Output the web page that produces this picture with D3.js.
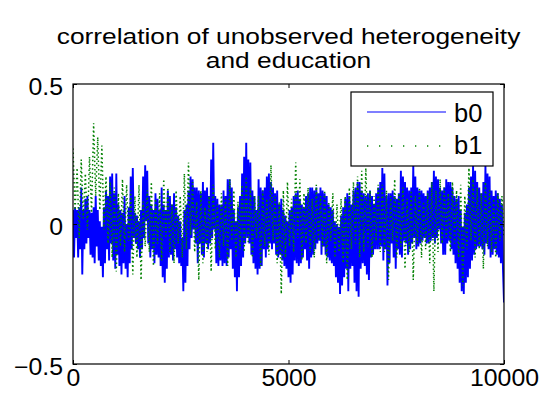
<!DOCTYPE html>
<html>
<head>
<meta charset="utf-8">
<script src="https://cdn.jsdelivr.net/npm/d3@7"></script>
<style>
  html, body { margin: 0; padding: 0; background: #fff; }
  svg { display: block; }
  text { font-family: "Liberation Sans", Arial, Helvetica, sans-serif; fill: #000; }
</style>
</head>
<body>
<svg id="chart" width="546" height="405"></svg>
<script>
// Chain draws of the two coefficients (sampled extremes along the 10000 iterations)
const b0 = [
  0.05,-0.12, 0.06,-0.05, 0.05,-0.12, 0.06,-0.09, 0.13,-0.18, 0.05,-0.09, 0.09,-0.07, 0.10,-0.05, 0.05,-0.11, 0.04,-0.12,
  0.06,-0.14, 0.10,-0.08, 0.05,-0.13, 0.01,-0.15, -0.01,-0.19, 0.06,-0.14, 0.12,-0.09, 0.10,-0.13, 0.17,-0.07, 0.18,-0.13,
  0.11,-0.16, 0.18,-0.11, 0.07,-0.15, 0.05,-0.18, 0.04,-0.14, 0.10,-0.16, 0.00,-0.19, 0.06,-0.14, 0.17,-0.09, 0.20,-0.05,
  0.04,-0.07, 0.03,-0.09, 0.01,-0.12, 0.05,-0.09, 0.17,-0.05, 0.21,0.01, 0.19,-0.07, 0.10,-0.12, 0.07,-0.09, 0.05,-0.14,
  0.11,-0.11, 0.09,-0.12, 0.05,-0.15, 0.13,-0.19, 0.07,-0.21, 0.05,-0.16, 0.12,-0.12, 0.10,-0.11, 0.07,-0.13, 0.11,-0.09,
  0.06,-0.12, 0.03,-0.14, 0.01,-0.15, -0.05,-0.24, 0.05,-0.21, 0.07,-0.15, 0.12,-0.09, 0.17,-0.05, 0.16,-0.02, 0.13,-0.07,
  0.13,-0.14, 0.12,-0.07, 0.11,-0.11, 0.15,-0.12, 0.12,-0.07, 0.13,-0.09, 0.10,-0.07, 0.23,-0.05, 0.29,-0.02, 0.10,-0.14,
  0.09,-0.15, 0.07,-0.13, 0.07,-0.15, 0.12,-0.14, 0.10,-0.15, 0.16,-0.12, 0.16,-0.09, 0.13,-0.16, 0.05,-0.19, 0.01,-0.24,
  0.06,-0.19, 0.10,-0.15, 0.18,-0.12, 0.24,-0.07, 0.29,-0.05, 0.23,-0.07, 0.22,-0.11, 0.12,-0.14, 0.10,-0.16, 0.05,-0.18,
  0.16,-0.16, 0.13,-0.15, 0.12,-0.09, 0.13,-0.12, 0.17,-0.09, 0.18,-0.07, 0.15,-0.09, 0.13,-0.07, 0.11,-0.11, 0.12,-0.12,
  0.07,-0.11, 0.09,-0.13, 0.05,-0.15, 0.03,-0.16, 0.01,-0.19, 0.05,-0.21, 0.06,-0.18, 0.10,-0.13, 0.11,-0.14, 0.12,-0.15,
  0.09,-0.14, 0.07,-0.12, 0.06,-0.09, 0.10,-0.13, 0.11,-0.16, 0.13,-0.12, 0.13,-0.11, 0.12,-0.09, 0.13,-0.07, 0.11,-0.06,
  0.13,-0.11, 0.12,-0.08, 0.11,-0.11, 0.10,-0.12, 0.07,-0.13, 0.06,-0.14, 0.05,-0.15, 0.01,-0.19, 0.00,-0.21, -0.01,-0.25,
  0.03,-0.22, 0.06,-0.19, 0.09,-0.16, 0.11,-0.24, 0.10,-0.16, 0.07,-0.15, 0.12,-0.21, 0.13,-0.24, 0.15,-0.26, 0.15,-0.16,
  0.12,-0.14, 0.11,-0.15, 0.10,-0.18, 0.11,-0.20, 0.12,-0.12, 0.10,-0.11, 0.07,-0.09, 0.11,-0.09, 0.13,-0.09, 0.15,-0.08,
  0.20,-0.13, 0.18,-0.09, 0.10,-0.22, 0.11,-0.14, 0.11,-0.07, 0.12,-0.12, 0.10,-0.16, 0.09,-0.09, 0.11,-0.11, 0.19,-0.12,
  0.17,-0.06, 0.15,-0.07, 0.13,-0.11, 0.12,-0.09, 0.13,-0.07, 0.21,-0.05, 0.17,-0.09, 0.13,-0.08, 0.12,-0.07, 0.12,-0.06,
  0.11,-0.05, 0.10,-0.07, 0.12,-0.07, 0.13,-0.06, 0.15,-0.05, 0.19,-0.07, 0.17,-0.05, 0.16,-0.02, 0.13,-0.07, 0.12,-0.11,
  0.13,-0.11, 0.16,-0.07, 0.15,-0.06, 0.15,-0.09, 0.13,-0.11, 0.10,-0.14, 0.09,-0.16, 0.10,-0.21, 0.05,-0.24, -0.01,-0.25,
  0.04,-0.21, 0.07,-0.19, 0.13,-0.16, 0.17,-0.13, 0.21,-0.11, 0.19,-0.09, 0.15,-0.08, 0.13,-0.08, 0.11,-0.09, 0.15,-0.11,
  0.21,-0.07, 0.18,-0.09, 0.17,-0.12, 0.12,-0.11, 0.10,-0.09, 0.12,-0.11, 0.11,-0.12, 0.09,-0.14, 0.07,-0.16, -0.28
];

const b1 = [
  0.27,0.05, 0.20,-0.05, 0.23,0.02, 0.18,-0.02, 0.24,0.04, 0.36,0.10, 0.31,0.05, 0.28,-0.02, 0.17,-0.07, 0.15,-0.12,
  0.13,-0.17, 0.11,-0.08, 0.16,-0.10, 0.14,-0.06, 0.12,-0.18,
  0.10,-0.12, 0.14,-0.20, 0.08,-0.08, 0.12,-0.10, 0.15,-0.15, 0.09,-0.07, 0.11,-0.13, 0.16,-0.05, 0.13,-0.10, 0.07,-0.14,
  0.12,-0.07, 0.10,-0.12, 0.18,-0.09, 0.22,-0.04, 0.15,-0.10,
  0.08,-0.20, 0.12,-0.14, 0.06,-0.10, 0.10,-0.17, 0.14,-0.09, 0.07,-0.12, 0.11,-0.08, 0.09,-0.15, 0.16,-0.06, 0.12,-0.12,
  0.08,-0.09, 0.14,-0.10, 0.17,-0.07, 0.13,-0.12, 0.10,-0.05,
  0.10,-0.15, 0.12,-0.08, 0.09,-0.11, 0.21,-0.06, 0.10,-0.14, 0.08,-0.25, 0.12,-0.12, 0.15,-0.08, 0.09,-0.10, 0.22,-0.05,
  0.16,-0.13, 0.11,-0.07, 0.13,-0.10, 0.09,-0.12, 0.14,-0.06,
  0.10,-0.08, 0.12,-0.14, 0.08,-0.06, 0.11,-0.12, 0.07,-0.10, 0.09,-0.14, 0.10,-0.20, 0.13,-0.09, 0.15,-0.07, 0.17,-0.12,
  0.19,-0.10, 0.20,-0.08, 0.12,-0.12, 0.10,-0.06, 0.14,-0.10,
  0.14,-0.10, 0.12,-0.20, 0.10,-0.06, 0.16,-0.12, 0.11,-0.08, 0.13,-0.16, 0.09,-0.10, 0.12,-0.20, 0.10,-0.07, 0.13,-0.12,
  0.08,-0.09, 0.11,-0.14, 0.15,-0.24, 0.12,-0.10, 0.16,-0.07,
  0.13,-0.05, 0.11,-0.10, 0.15,-0.07, 0.12,-0.12, 0.14,-0.22, 0.10,-0.09, 0.20,-0.06, 0.16,-0.12, 0.13,-0.09, 0.11,-0.16,
  0.15,-0.08, 0.12,-0.10, 0.09,-0.12, 0.11,-0.06, 0.10,-0.05
];

const seriesNames = ["b0", "b1"];
const iterations = 10000;
const xTicks = [0, 5000, 10000];
const xTickLabels = ["0", "5000", "10000"];
const yTicks = [-0.5, 0, 0.5];
const yTickLabels = ["\u22120.5", "0", "0.5"];
const titleLines = ["correlation of unobserved heterogeneity", "and education"];

const svg = d3.select("#chart");
const W = 546, H = 405;
const plot = { left: 73, right: 504, top: 84, bottom: 364 };

svg.append("rect").attr("width", W).attr("height", H).attr("fill", "#fff");

const x = d3.scaleLinear().domain([0, iterations]).range([plot.left, plot.right]);
const y = d3.scaleLinear().domain([-0.5, 0.5]).range([plot.bottom, plot.top]);

svg.append("defs").append("clipPath").attr("id", "plotClip")
  .append("rect")
  .attr("x", plot.left).attr("y", plot.top)
  .attr("width", plot.right - plot.left).attr("height", plot.bottom - plot.top);

const dataG = svg.append("g").attr("clip-path", "url(#plotClip)");

const lineFor = arr => d3.line()
  .x((d, i) => x(i * iterations / (arr.length - 1)))
  .y(d => y(d));

dataG.append("path")
  .datum(b0)
  .attr("d", lineFor(b0))
  .attr("fill", "none")
  .attr("stroke", "#0000ff")
  .attr("stroke-width", 1.9)
  .attr("stroke-linejoin", "bevel");

dataG.append("path")
  .datum(b1)
  .attr("d", lineFor(b1))
  .attr("fill", "none")
  .attr("stroke", "#008000")
  .attr("stroke-width", 1.5)
  .attr("stroke-dasharray", "1.5,2.7");

// Axes box
svg.append("rect")
  .attr("x", plot.left).attr("y", plot.top)
  .attr("width", plot.right - plot.left).attr("height", plot.bottom - plot.top)
  .attr("fill", "none").attr("stroke", "#000").attr("stroke-width", 1.2);

function styleAxis(g, dx, dy, anchor, size, sx) {
  g.select(".domain").remove();
  g.selectAll(".tick line").attr("stroke", "#000").attr("stroke-width", 1);
  g.selectAll(".tick text")
    .attr("x", null).attr("y", null).attr("dy", null)
    .attr("text-anchor", anchor)
    .style("font-size", size + "px")
    .attr("transform", `translate(${dx},${dy}) scale(${sx},1)`);
}

const tick = 4;
const tickFont = 23, tickStretch = 1.08;

const gBottom = svg.append("g").attr("transform", `translate(0,${plot.bottom})`)
  .call(d3.axisBottom(x).tickValues(xTicks).tickFormat((d, i) => xTickLabels[i]).tickSizeInner(-tick).tickSizeOuter(0));
styleAxis(gBottom, 0, 22, "middle", tickFont, tickStretch);

const gTop = svg.append("g").attr("transform", `translate(0,${plot.top})`)
  .call(d3.axisTop(x).tickValues(xTicks).tickFormat("").tickSizeInner(-tick).tickSizeOuter(0));
gTop.select(".domain").remove();
gTop.selectAll(".tick line").attr("stroke", "#000");

const gLeft = svg.append("g").attr("transform", `translate(${plot.left},0)`)
  .call(d3.axisLeft(y).tickValues(yTicks).tickFormat((d, i) => yTickLabels[i]).tickSizeInner(-tick).tickSizeOuter(0));
styleAxis(gLeft, -10, 10, "end", tickFont, tickStretch);

const gRight = svg.append("g").attr("transform", `translate(${plot.right},0)`)
  .call(d3.axisRight(y).tickValues(yTicks).tickFormat("").tickSizeInner(-tick).tickSizeOuter(0));
gRight.select(".domain").remove();
gRight.selectAll(".tick line").attr("stroke", "#000");

// Title
const titleX = (plot.left + plot.right) / 2;
svg.selectAll("text.title").data(titleLines).enter().append("text")
  .attr("class", "title")
  .attr("text-anchor", "middle")
  .style("font-size", "22.5px")
  .attr("transform", (d, i) => `translate(${titleX},${44 + i * 24}) scale(1.17,1)`)
  .text(d => d);

// Legend
const leg = svg.append("g");
leg.append("rect")
  .attr("x", 351).attr("y", 92).attr("width", 142).attr("height", 74)
  .attr("fill", "#fff").attr("stroke", "#000").attr("stroke-width", 1.2);
leg.append("line")
  .attr("x1", 367).attr("x2", 446).attr("y1", 112).attr("y2", 112)
  .attr("stroke", "#0000ff").attr("stroke-width", 1.2);
leg.append("line")
  .attr("x1", 367).attr("x2", 446).attr("y1", 146).attr("y2", 146)
  .attr("stroke", "#008000").attr("stroke-width", 1.3)
  .attr("stroke-dasharray", "1.3,10.7");
leg.selectAll("text").data(seriesNames).enter().append("text")
  .style("font-size", "25px")
  .attr("transform", (d, i) => `translate(454,${122 + i * 32}) scale(1.02,1)`)
  .text(d => d);
</script>
</body>
</html>
